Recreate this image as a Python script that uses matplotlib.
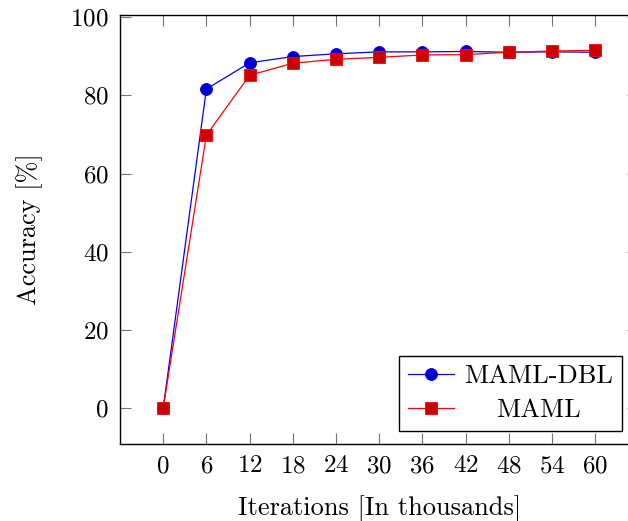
import numpy as np
from matplotlib import pyplot as plt

ITERATIONS = [0, 6, 12, 18, 24, 30, 36, 42, 48, 54, 60]
MAML_DBL = [0, 81.6, 88.3, 89.9, 90.6, 91.1, 91.1, 91.2, 91.0, 91.1, 91.0]
MAML = [0, 69.8, 85.1, 88.2, 89.2, 89.7, 90.3, 90.4, 91.0, 91.3, 91.5]
Y_TICKS = [0, 20, 40, 60, 80, 100]

plt.rcParams['font.family'] = 'serif'
plt.rcParams['font.serif'] = ['cmr10']
plt.rcParams['mathtext.fontset'] = 'cm'
plt.rcParams['axes.formatter.use_mathtext'] = True
plt.rcParams['font.size'] = 18


def main():
    W, H = 628, 521
    fig = plt.figure(figsize=(W / 100, H / 100), dpi=100)
    # axes box in pixels (right spine falls just outside the picture)
    left, right, top, bottom = 120, 638.4, 14.5, 444
    ax = fig.add_axes([left / W, (H - bottom) / H, (right - left) / W, (bottom - top) / H])

    ax.plot(ITERATIONS, MAML_DBL, color=(0, 0, 1), lw=0.9, marker='o', ms=8.6,
            mfc=(0, 0, 0.8), mec=(0, 0, 1), mew=0.6, label="MAML-DBL")
    ax.plot(ITERATIONS, MAML, color=(1, 0, 0), lw=0.9, marker='s', ms=8.2,
            mfc=(0.8, 0, 0), mec=(1, 0, 0), mew=0.6, label="MAML")

    ax.set_xlim(-6, 66)
    ax.set_ylim(-9.15, 100.65)
    ax.set_xticks(ITERATIONS)
    ax.set_yticks(Y_TICKS)
    ax.tick_params(direction='in', length=8, width=0.8, color='0.45',
                   top=True, right=True, pad=8, labelsize=18)
    for s in ax.spines.values():
        s.set_linewidth(1.0)

    ax.set_xlabel("Iterations [In thousands]", fontsize=19, labelpad=13)
    ax.set_ylabel("Accuracy [%]", fontsize=19, labelpad=20)

    leg = ax.legend(loc='lower right', bbox_to_anchor=(622 / W, (H - 431) / H),
                    bbox_transform=fig.transFigure, borderaxespad=0,
                    fancybox=False, framealpha=1, edgecolor='black',
                    handlelength=1.75, handletextpad=0.4, borderpad=0.33,
                    labelspacing=0.4, fontsize=19)
    leg.get_frame().set_linewidth(1.0)

    # center legend texts like pgfplots does
    fig.canvas.draw()
    r = fig.canvas.get_renderer()
    texts = leg.get_texts()
    widths = [t.get_window_extent(r).width for t in texts]
    wmax = max(widths)
    for t, w in zip(texts, widths):
        t.set_position(((wmax - w) / 2, 0))

    fig.savefig("out.png", dpi=100)


if __name__ == "__main__":
    main()
